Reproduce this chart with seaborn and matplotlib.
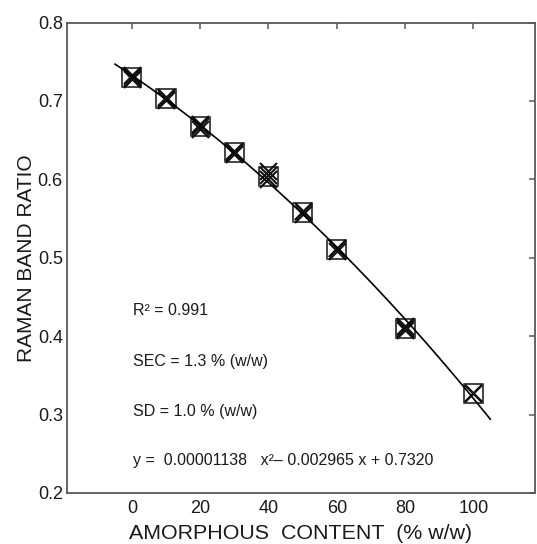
import matplotlib
matplotlib.use("Agg")
import matplotlib.pyplot as plt
import seaborn as sns
import numpy as np

# ---- data ----
amorphous = [0, 10, 20, 30, 40, 50, 60, 80, 100]
ratio_mean = [0.730, 0.703, 0.667, 0.634, 0.604, 0.558, 0.511, 0.410, 0.327]
rep_1 = [0.728, 0.701, 0.664, 0.632, 0.601, 0.556, 0.509, 0.408, 0.327]
rep_2 = [0.731, 0.704, 0.668, 0.635, 0.605, 0.559, 0.512, 0.411, 0.328]
rep_3 = [0.733, 0.705, 0.670, 0.636, 0.611, 0.560, 0.513, 0.413, 0.327]
x_ticks = [0, 20, 40, 60, 80, 100]
y_ticks = [0.2, 0.3, 0.4, 0.5, 0.6, 0.7, 0.8]
stats_lines = ["R\u00b2 = 0.991", "SEC = 1.3 % (w/w)", "SD = 1.0 % (w/w)",
               "y =  0.00001138   x\u00b2\u2013 0.002965 x + 0.7320"]
stats_y = [0.433, 0.368, 0.304, 0.242]

sns.set_style("white")
plt.rcParams["font.family"] = ["Liberation Sans", "DejaVu Sans"]

fig = plt.figure(figsize=(5.37, 5.44), dpi=100)
ax = fig.add_axes([0.1248, 0.0938, 0.8712, 0.8648])

reps_x = amorphous * 3
reps_y = rep_1 + rep_2 + rep_3

sns.scatterplot(x=amorphous, y=ratio_mean, marker="s", s=190, color="none",
                edgecolor="#444444", linewidth=1.4, ax=ax, zorder=3)
sns.scatterplot(x=reps_x, y=reps_y, marker="x", s=150, color="#111111",
                linewidth=1.5, ax=ax, zorder=4)

ax.set_xlim(-5, 105)
sns.regplot(x=amorphous, y=ratio_mean, order=2, ci=None, scatter=False,
            truncate=False, ax=ax,
            line_kws=dict(color="black", linewidth=1.2, zorder=5))

ax.set_xlim(-19, 118)
ax.set_ylim(0.2, 0.8)
ax.set_xticks(x_ticks)
ax.set_yticks(y_ticks)
ax.set_xticklabels([str(t) for t in x_ticks])
ax.set_yticklabels([f"{t:.1f}" for t in y_ticks])

for sp in ax.spines.values():
    sp.set_visible(True)
    sp.set_color("#585858")
    sp.set_linewidth(1.3)

ax.tick_params(direction="in", length=4, width=1.1, color="#585858",
               top=True, right=True, labelsize=13, labelcolor="#1a1a1a")
ax.tick_params(axis="x", pad=5)
ax.tick_params(axis="y", pad=3)

ax.set_xlabel("AMORPHOUS  CONTENT  (% w/w)", fontsize=15.4, color="#1a1a1a",
              labelpad=5)
ax.set_ylabel("RAMAN BAND RATIO", fontsize=15, color="#1a1a1a", labelpad=1)

for txt, yy in zip(stats_lines, stats_y):
    ax.text(0.3, yy, txt, fontsize=11.5, color="#1a1a1a", va="center", ha="left")

fig.savefig("out.png", dpi=100)
